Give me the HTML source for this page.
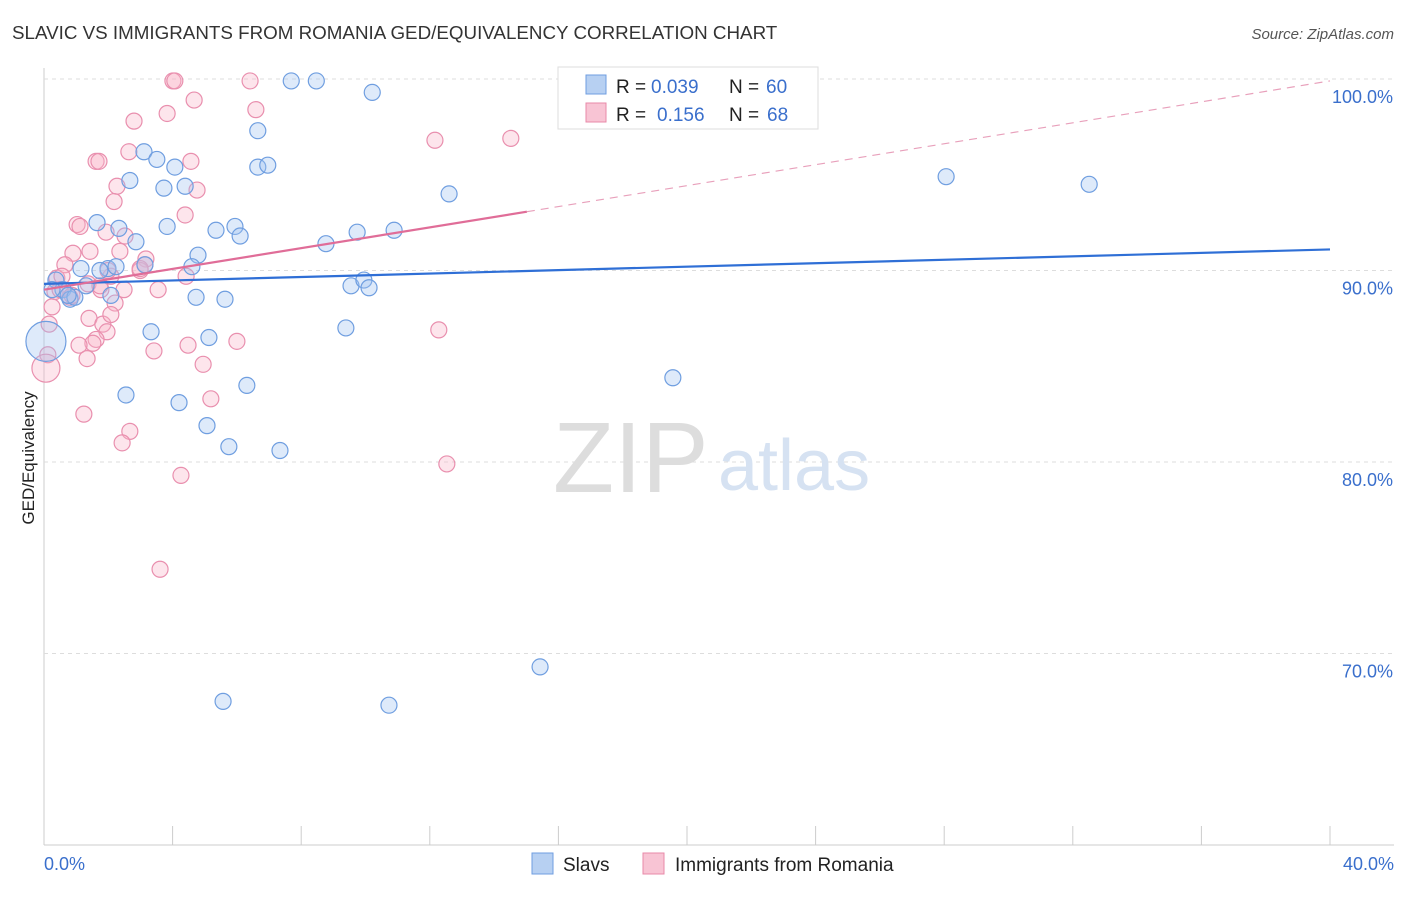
<!DOCTYPE html>
<html><head><meta charset="utf-8"><style>
body{margin:0;background:#fff;font-family:"Liberation Sans",sans-serif;}
svg text{font-family:"Liberation Sans",sans-serif;}
</style></head><body>
<svg width="1406" height="892" viewBox="0 0 1406 892">
<text x="12" y="39" font-size="18.8" fill="#333">SLAVIC VS IMMIGRANTS FROM ROMANIA GED/EQUIVALENCY CORRELATION CHART</text>
<text x="1394" y="39" font-size="15" fill="#555" font-style="italic" text-anchor="end">Source: ZipAtlas.com</text>
<text transform="translate(34,458) rotate(-90)" font-size="17" fill="#222" text-anchor="middle">GED/Equivalency</text>
<g id="grid"></g>
<g>
<text x="553" y="492" font-size="100" fill="#ddd" font-family="Liberation Serif">ZIP</text>
<text x="718" y="490" font-size="72" fill="#d6e2f2">atlas</text>
</g>
<g id="pts"></g>
<g id="lines"></g>
<g>
<rect x="558" y="67" width="260" height="62" fill="#fff" stroke="#ddd"/>
<rect x="586" y="75" width="20" height="19" fill="#b7d0f2" stroke="#6f9ee0"/>
<rect x="586" y="103" width="20" height="19" fill="#f8c4d4" stroke="#e88aa8"/>
<text x="616" y="93" font-size="19" fill="#222">R =</text>
<text x="651" y="93" font-size="19" fill="#3a6fcc">0.039</text>
<text x="729" y="93" font-size="19" fill="#222">N =</text>
<text x="766" y="93" font-size="19" fill="#3a6fcc">60</text>
<text x="616" y="121" font-size="19" fill="#222">R =</text>
<text x="657" y="121" font-size="19" fill="#3a6fcc">0.156</text>
<text x="729" y="121" font-size="19" fill="#222">N =</text>
<text x="767" y="121" font-size="19" fill="#3a6fcc">68</text>
</g>
<g>
<rect x="532" y="853" width="21" height="21" fill="#b7d0f2" stroke="#6f9ee0"/>
<text x="563" y="871" font-size="19" fill="#222">Slavs</text>
<rect x="643" y="853" width="21" height="21" fill="#f8c4d4" stroke="#e88aa8"/>
<text x="675" y="871" font-size="19" fill="#222">Immigrants from Romania</text>
</g>
</svg>
<script>
const yTicks=[100,90,80,70];
const yTickLabels=["100.0%","90.0%","80.0%","70.0%"];
const xEndLabels=["0.0%","40.0%"];
const slavX=[7.69,8.47,10.21,6.65,3.11,3.51,4.07,6.65,6.96,2.67,3.73,4.39,12.60,28.06,32.51,1.65,2.33,3.83,5.35,5.94,6.10,2.86,8.77,9.74,10.89,4.79,1.15,1.99,2.24,3.14,4.60,0.37,0.59,0.81,1.31,2.08,4.73,5.63,9.55,9.95,10.11,3.33,5.13,9.39,2.55,4.20,6.31,5.07,5.75,7.34,19.56,15.43,5.57,10.73,0.06,16.98,0.96,0.25,0.75,1.74];
const slavY=[99.9,99.9,99.3,97.3,96.2,95.8,95.4,95.4,95.5,94.7,94.3,94.4,94.0,94.9,94.5,92.5,92.2,92.3,92.1,92.3,91.8,91.5,91.4,92.0,92.1,90.8,90.1,90.1,90.2,90.3,90.2,89.5,89.0,88.5,89.2,88.7,88.6,88.5,89.2,89.5,89.1,86.8,86.5,87.0,83.5,83.1,84.0,81.9,80.8,80.6,84.4,69.3,67.5,67.3,86.3,99.9,88.6,89.0,88.7,90.0];
const romX=[4.01,4.07,6.41,4.67,3.83,6.59,2.80,12.16,14.52,2.64,1.62,1.71,4.57,2.27,4.76,2.18,4.39,1.03,1.12,1.93,2.52,1.43,0.90,2.36,3.17,0.65,2.99,2.08,0.40,4.42,1.37,0.34,1.77,0.81,3.55,2.21,0.25,1.40,0.16,1.83,2.08,1.96,1.62,1.52,1.09,4.48,6.00,3.42,1.34,4.95,0.12,0.06,12.28,1.24,2.67,2.43,5.19,4.26,12.53,3.61,0.56,0.50,0.87,2.99,1.74,2.49,3.14,1.99];
const romY=[99.9,99.9,99.9,98.9,98.2,98.4,97.8,96.8,96.9,96.2,95.7,95.7,95.7,94.4,94.2,93.6,92.9,92.4,92.3,92.0,91.8,91.0,90.9,91.0,90.6,90.3,90.0,89.7,89.6,89.7,89.3,88.9,89.0,88.6,89.0,88.3,88.1,87.5,87.2,87.2,87.7,86.8,86.4,86.2,86.1,86.1,86.3,85.8,85.4,85.1,85.6,84.9,86.9,82.5,81.6,81.0,83.3,79.3,79.9,74.4,89.7,89.0,88.7,90.1,89.2,89.0,90.3,90.0];
const sx=v=>44+v/40*1286, sy=v=>79+(100-v)*19.15;
const NS="http://www.w3.org/2000/svg";
function mk(t,a,p){const e=document.createElementNS(NS,t);for(const k in a)e.setAttribute(k,a[k]);p.appendChild(e);return e;}
const grid=document.getElementById('grid');
let ax=mk('line',{x1:44,y1:68,x2:44,y2:845,stroke:'#ccc'},grid);

let bx=mk('line',{x1:44,y1:845,x2:1394,y2:845,stroke:'#ccc'},grid);

yTicks.forEach((t,i)=>{
 const g=mk('line',{x1:44,y1:sy(t),x2:1394,y2:sy(t),stroke:'#ddd','stroke-dasharray':'4,4'},grid);
 
 const l=mk('text',{x:1393,y:sy(t)+24,'font-size':18,fill:'#3a6fcc','text-anchor':'end'},grid);l.textContent=yTickLabels[i];
 
});
for(let i=1;i<=10;i++){const x=sx(i*4);const t=mk('line',{x1:x,y1:826,x2:x,y2:845,stroke:'#ccc'},grid);
 }
let x0=mk('text',{x:44,y:870,'font-size':18,fill:'#3a6fcc'},grid);x0.textContent=xEndLabels[0];

let x1=mk('text',{x:1394,y:870,'font-size':18,fill:'#3a6fcc','text-anchor':'end'},grid);x1.textContent=xEndLabels[1];

const pts=document.getElementById('pts');
romX.forEach((x,i)=>{const r=(i==51)?14:8;const c=mk('circle',{cx:sx(x),cy:sy(romY[i]),r:r,fill:'rgba(248,180,200,0.35)',stroke:'#e98fae','stroke-width':1.2},pts);
 });
slavX.forEach((x,i)=>{const r=(i==54)?20:8;const c=mk('circle',{cx:sx(x),cy:sy(slavY[i]),r:r,fill:'rgba(160,195,240,0.35)',stroke:'#6f9ee0','stroke-width':1.2},pts);
 });
const ln=document.getElementById('lines');
let b=mk('line',{x1:sx(0),y1:sy(89.3),x2:sx(40),y2:sy(91.1),stroke:'#2f6fd6','stroke-width':2.2},ln);

let p=mk('line',{x1:sx(0),y1:sy(89.0),x2:sx(15.02),y2:sy(93.07),stroke:'#e06d98','stroke-width':2.2},ln);

let pd=mk('line',{x1:sx(15.02),y1:sy(93.07),x2:sx(40),y2:sy(99.9),stroke:'#e8a0bb','stroke-width':1.2,'stroke-dasharray':'8,6'},ln);

</script>
</body></html>
